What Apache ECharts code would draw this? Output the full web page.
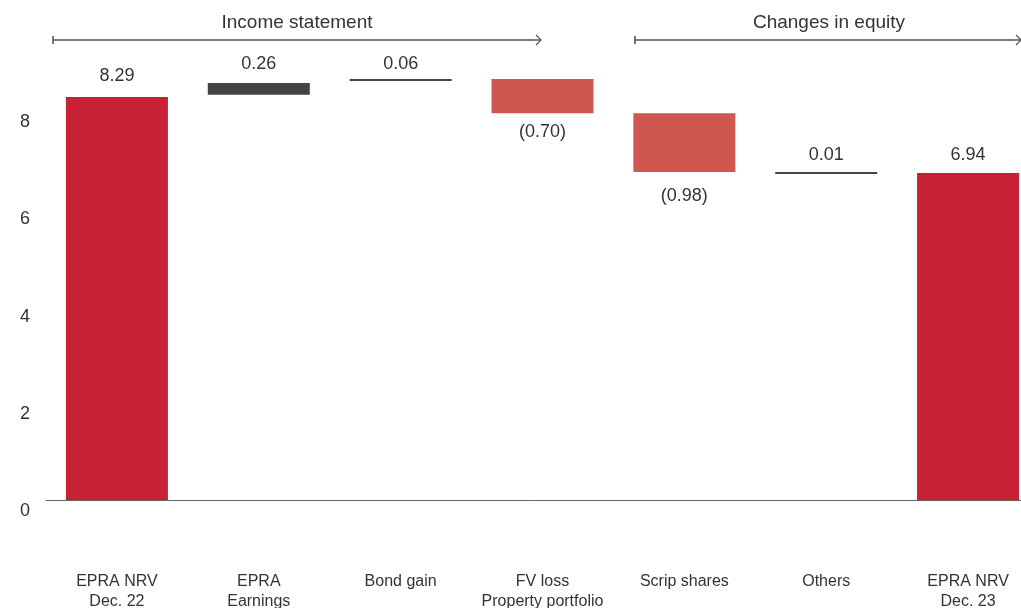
<!DOCTYPE html>
<html><head><meta charset="utf-8">
<script src="https://cdn.jsdelivr.net/npm/echarts@6/dist/echarts.min.js"></script>
<style>html,body{margin:0;padding:0;background:#fff;overflow:hidden}#c{width:1021px;height:608px}</style>
</head><body><div id="c"></div>
<script>
const categories = ['EPRA NRV\nDec. 22','EPRA\nEarnings','Bond gain','FV loss\nProperty portfolio','Scrip shares','Others','EPRA NRV\nDec. 23'];
const valueLabels = ['8.29','0.26','0.06','(0.70)','(0.98)','0.01','6.94'];
const barKind = ['total','up','up','down','down','up','total'];
const lows  = [0, 8.34, 8.62, 7.96, 6.75, 6.71, 0];
const highs = [8.29, 8.58, 8.66, 8.66, 7.96, 6.75, 6.73];
const yTicks = [0, 2, 4, 6, 8];
const groupNames = ['Income statement', 'Changes in equity'];

// styling (not data)
const colors = {total: '#C82035', up: '#444444', down: '#CF5750'};
const labelDistance = [12, 10, 6, 10, 15, 8, 9];
const FONT = '"Liberation Sans", Arial, sans-serif';

const deltaData = highs.map((h, i) => ({
  value: +(h - lows[i]).toFixed(3),
  itemStyle: {color: colors[barKind[i]]},
  label: {
    show: true,
    position: barKind[i] === 'down' ? 'bottom' : 'top',
    distance: labelDistance[i],
    formatter: () => valueLabels[i],
    color: '#333', fontSize: 18, fontFamily: FONT
  }
}));

const chart = echarts.init(document.getElementById('c'), null, {renderer: 'canvas', width: 1021, height: 608});
const lineColor = '#555';
function bracket(x1, x2, y, text, tx) {
  return [
    {type: 'line', shape: {x1: x1, y1: y, x2: x2, y2: y}, style: {stroke: lineColor, lineWidth: 1.3}},
    {type: 'line', shape: {x1: x1, y1: y - 4, x2: x1, y2: y + 4}, style: {stroke: lineColor, lineWidth: 1.6}},
    {type: 'polyline', shape: {points: [[x2 - 5, y - 5], [x2, y], [x2 - 5, y + 5]]}, style: {stroke: lineColor, lineWidth: 1.2, fill: null}},
    {type: 'text', x: tx, y: 23, style: {text: text, fill: '#333', font: '19px ' + FONT, textAlign: 'center', textVerticalAlign: 'middle'}}
  ];
}

chart.setOption({
  animation: false,
  textStyle: {fontFamily: FONT},
  grid: {left: 46, top: 14, width: 993, height: 486, containLabel: false, outerBoundsMode: 'none'},
  xAxis: {
    type: 'category', data: categories,
    axisLine: {show: true, lineStyle: {color: '#666', width: 1}},
    axisTick: {show: false},
    axisLabel: {color: '#333', fontSize: 16, fontFamily: FONT, margin: 72, lineHeight: 20, interval: 0}
  },
  yAxis: {
    type: 'value', min: 0, max: 10, interval: 2,
    axisLine: {show: false}, axisTick: {show: false}, splitLine: {show: false},
    axisLabel: {
      color: '#333', fontSize: 18, fontFamily: FONT, margin: 16,
      verticalAlign: 'top', padding: [2, 0, 0, 0],
      formatter: v => (yTicks.indexOf(v) >= 0 ? String(v) : '')
    }
  },
  series: [
    {type: 'bar', stack: 'w', data: lows, barWidth: 102, itemStyle: {color: 'transparent'}, silent: true},
    {type: 'bar', stack: 'w', data: deltaData, barWidth: 102, barMinHeight: 2}
  ],
  graphic: [].concat(bracket(53, 541, 40, groupNames[0], 297), bracket(635, 1021, 40, groupNames[1], 829))
});
</script></body></html>
